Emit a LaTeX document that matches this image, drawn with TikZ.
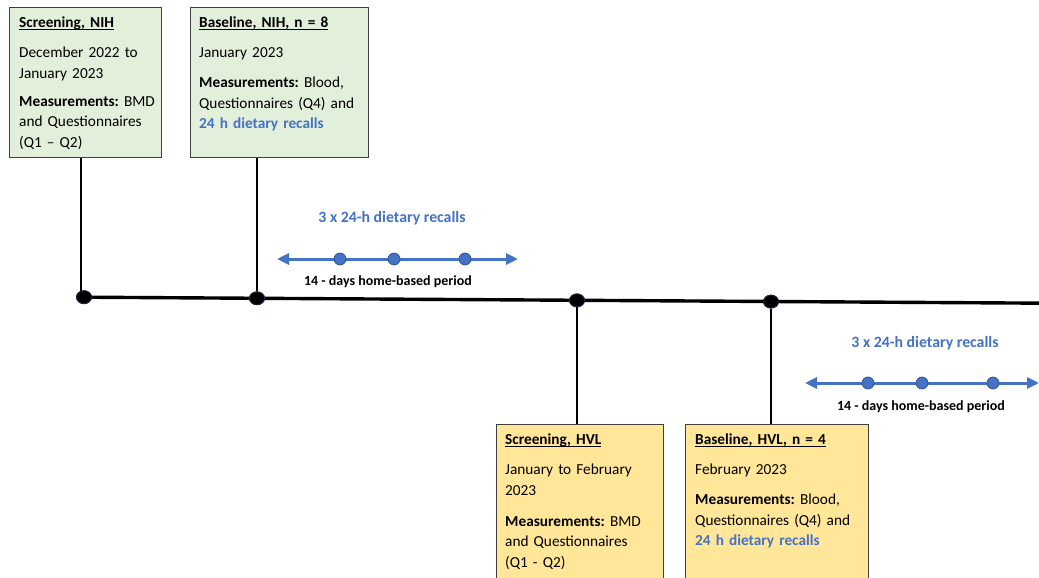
\documentclass[tikz,border=0pt]{standalone}
\usepackage{fontspec}
\setmainfont{Carlito}
\usetikzlibrary{arrows.meta}
\definecolor{boxgreen}{HTML}{E2EFDA}
\definecolor{boxyellow}{HTML}{FFE699}
\definecolor{accentblue}{HTML}{4472C4}
\definecolor{boxline}{HTML}{3F3F3F}
\definecolor{dotline}{HTML}{1F2A44}
\newcommand\hdul[1]{\setbox0\hbox{#1}\rlap{\rule[-3.2pt]{\wd0}{1.1pt}}\box0}
\newcommand\hl[1]{\textcolor{accentblue}{\textbf{#1}}}
\frenchspacing
\tikzset{
  infobox/.style={draw=boxline, line width=1pt, minimum width=#1, anchor=north west, inner sep=0pt},
  greenbox/.style={infobox=#1, fill=boxgreen},
  yellowbox/.style={infobox=#1, fill=boxyellow},
  boxtext/.style={anchor=north west, inner sep=0pt, align=left, text width=#1,
    font=\fontsize{15.3}{20.7}\selectfont},
  tldot/.style={ellipse, fill=black, draw=dotline, line width=0.8pt, minimum width=15pt, minimum height=13pt, inner sep=0pt},
  bluedot/.style={circle, fill=accentblue, draw=accentblue!70!black, line width=0.7pt, minimum size=12pt, inner sep=0pt},
  timeline/.style={line width=3.4pt, black},
  stem/.style={line width=1.8pt, black},
  recall/.style={line width=3pt, accentblue, {Triangle[length=12pt,width=11pt]}-{Triangle[length=12pt,width=11pt]}},
  recalltitle/.style={font=\fontsize{15.8}{18}\selectfont\bfseries, text=accentblue, inner sep=0pt},
  periodlabel/.style={font=\fontsize{14}{16}\selectfont\bfseries, inner sep=0pt},
}
\usetikzlibrary{shapes.geometric}
\begin{document}
\begin{tikzpicture}[x=1pt,y=-1pt]
\clip (0,0) rectangle (1039,578);
\fill[white] (0,0) rectangle (1039,578);

% boxes
\node[greenbox=152pt, minimum height=150pt] (snb) at (9,7) {};
\node[greenbox=178pt, minimum height=150pt] (bnb) at (190,7) {};
\node[yellowbox=167pt, minimum height=170pt] (shb) at (496,424) {};
\node[yellowbox=183pt, minimum height=170pt] (bhb) at (685,424) {};

% box texts
\node[boxtext=140pt] (snt) at (19,12.5) {\strut\textbf{\hdul{Screening, NIH}}\\[9.5pt]
December 2022 to\\January 2023\\[7.5pt]
\textbf{Measurements:} BMD\\and Questionnaires\\(Q1 – Q2)};
\node[boxtext=170pt] (bnt) at (199,12.5) {\strut\textbf{\hdul{Baseline, NIH, n = 8}}\\[9.5pt]
January 2023\\[9.5pt]
\textbf{Measurements:} Blood,\\Questionnaires (Q4) and\\\hl{24 h dietary recalls}};
\node[boxtext=158pt] (sht) at (505,429.5) {\strut\textbf{\hdul{Screening, HVL}}\\[9.5pt]
January to February\\2023\\[10.5pt]
\textbf{Measurements:} BMD\\and Questionnaires\\(Q1 - Q2)};
\node[boxtext=175pt] (bht) at (695,429.5) {\strut\textbf{\hdul{Baseline, HVL, n = 4}}\\[9.5pt]
February 2023\\[9.5pt]
\textbf{Measurements:} Blood,\\Questionnaires (Q4) and\\\hl{24 h dietary recalls}};

% timeline
\coordinate (tlstart) at (84,297.2);
\coordinate (tlend) at (1045,303.2);
\draw[timeline] (tlstart) -- (tlend);

% dots
\node[tldot] (d1) at (84,297.2) {};
\node[tldot] (d2) at (257,298.3) {};
\node[tldot] (d3) at (577,300.4) {};
\node[tldot] (d4) at (771,301.6) {};

% stems
\draw[stem] (snb.south -| 81,0) -- (d1.center -| 81,0);
\draw[stem] (bnb.south -| d2) -- (d2);
\draw[stem] (d3) -- (shb.north -| d3);
\draw[stem] (d4) -- (bhb.north -| d4);
\node[tldot] at (d1) {};
\node[tldot] at (d2) {};
\node[tldot] at (d3) {};
\node[tldot] at (d4) {};

% recall periods
\node[recalltitle] (rt1) at (392,218) {3 x 24-h dietary recalls};
\coordinate (ra1) at (277,259);
\coordinate (rb1) at (518,259);
\draw[recall] (ra1) -- (rb1);
\node[bluedot] (b11) at (340,259) {};
\node[bluedot] (b12) at (394,259) {};
\node[bluedot] (b13) at (465,259) {};
\node[periodlabel] (pl1) at (388,282) {14 - days home-based period};

\node[recalltitle] (rt2) at (925,343) {3 x 24-h dietary recalls};
\coordinate (ra2) at (805,383);
\coordinate (rb2) at (1039,383);
\draw[recall] (ra2) -- (rb2);
\node[bluedot] (b21) at (868,383) {};
\node[bluedot] (b22) at (922,383) {};
\node[bluedot] (b23) at (993,383) {};
\node[periodlabel] (pl2) at (921,407) {14 - days home-based period};
\end{tikzpicture}
\end{document}
